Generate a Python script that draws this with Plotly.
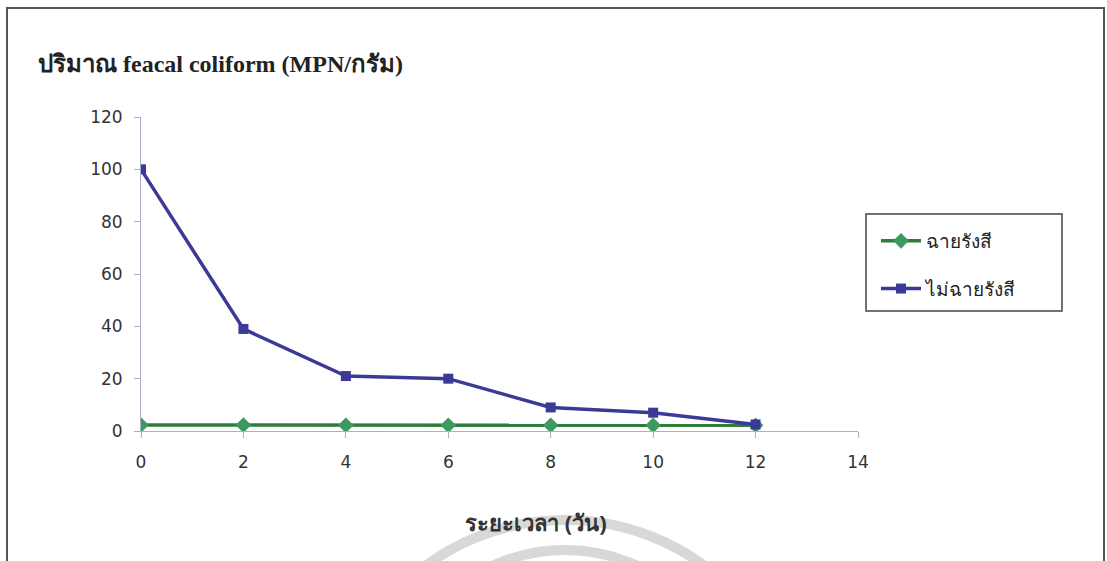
import plotly.graph_objects as go

days = [0, 2, 4, 6, 8, 10, 12]
irradiated = [2.3, 2.3, 2.2, 2.2, 2.2, 2.2, 2.2]
non_irradiated = [100, 39, 21, 20, 9, 7, 2.5]
series_names = ["ฉายรังสี", "ไม่ฉายรังสี"]
x_ticks = [0, 2, 4, 6, 8, 10, 12, 14]
y_ticks = [0, 20, 40, 60, 80, 100, 120]

W, H = 1107, 561
L, R, T, B = 141, 858, 117, 431

def px(x):
    return (x - L) / (R - L)

def py(y):
    return (B - y) / (B - T)

fig = go.Figure()
fig.add_trace(go.Scatter(
    x=days, y=irradiated, name=series_names[0], mode="lines+markers",
    legendgroup="a",
    line=dict(color="#2f7d3a", width=3.5),
    marker=dict(symbol="diamond", size=12, color="#3c9a5e"),
))
fig.add_trace(go.Scatter(
    x=days, y=non_irradiated, name=series_names[1], mode="lines+markers",
    legendgroup="b",
    line=dict(color="#3b3a96", width=3.5),
    marker=dict(symbol="square", size=10, color="#3b3a96"),
))

axis_color = "#aab0cc"
fig.update_layout(
    width=W, height=H,
    margin=dict(l=L, r=W - R, t=T, b=H - B),
    paper_bgcolor="white", plot_bgcolor="white",
    showlegend=True,
    legend=dict(
        x=px(876), y=py(222), xanchor="left", yanchor="top",
        borderwidth=0, bgcolor="rgba(0,0,0,0)",
        font=dict(family="Noto Sans, Liberation Serif", size=19, color="#222"),
        itemwidth=40, tracegroupgap=20,
    ),
    xaxis=dict(
        range=[0, 14], tickvals=x_ticks, showgrid=False, zeroline=False,
        showline=True, linecolor=axis_color, linewidth=1,
        ticks="outside", ticklen=6, tickcolor=axis_color,
        ticklabelstandoff=10,
        tickfont=dict(family="DejaVu Sans", size=17, color="#333"),
    ),
    yaxis=dict(
        range=[0, 120], tickvals=y_ticks, showgrid=False, zeroline=False,
        showline=True, linecolor=axis_color, linewidth=1,
        ticks="outside", ticklen=6, tickcolor=axis_color,
        ticklabelstandoff=8,
        tickfont=dict(family="DejaVu Sans", size=17, color="#333"),
    ),
    annotations=[
        dict(text="<b>ปริมาณ feacal coliform (MPN/กรัม)</b>", xref="paper", yref="paper",
             x=px(36), y=py(64), xanchor="left", yanchor="middle", showarrow=False,
             font=dict(family="Liberation Serif, Noto Sans", size=24, color="#222")),
        dict(text="<b>ระยะเวลา (วัน)</b>", xref="paper", yref="paper",
             x=px(536), y=py(522), xanchor="center", yanchor="middle", showarrow=False,
             font=dict(family="Noto Sans, Liberation Serif", size=22, color="#333")),
    ],
    shapes=[
        dict(type="rect", xref="paper", yref="paper",
             x0=px(7), x1=px(1104), y0=py(600), y1=py(8),
             line=dict(color="#555555", width=2)),
        dict(type="rect", xref="paper", yref="paper",
             x0=px(866), x1=px(1062), y0=py(311), y1=py(214),
             line=dict(color="#444444", width=1.5)),
        dict(type="circle", xref="paper", yref="paper",
             x0=px(330), x1=px(800), y0=py(990), y1=py(520),
             line=dict(color="#d8d8d8", width=10), layer="below"),
        dict(type="circle", xref="paper", yref="paper",
             x0=px(390), x1=px(740), y0=py(900), y1=py(550),
             line=dict(color="#d8d8d8", width=10), layer="below"),
    ],
)

fig.write_html("out.html")
